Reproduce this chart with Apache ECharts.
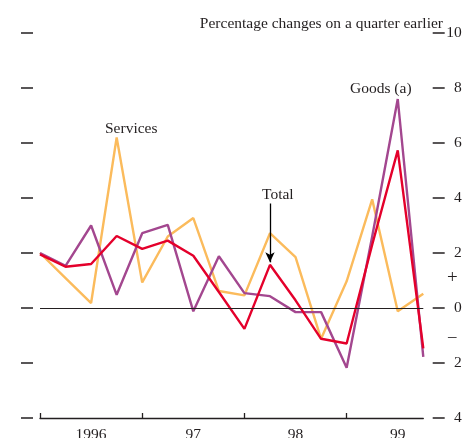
<!DOCTYPE html>
<html>
<head>
<meta charset="utf-8">
<script src="https://cdn.jsdelivr.net/npm/echarts@6/dist/echarts.min.js"></script>
<style>
  html, body { margin: 0; padding: 0; background: #fff; }
  #chart { width: 464px; height: 438px; }
</style>
</head>
<body>
<div id="chart"></div>
<script>
"use strict";

// quarters 1996 Q1 .. 1999 Q4
var quarters = ['96Q1', '96Q2', '96Q3', '96Q4', '97Q1', '97Q2', '97Q3', '97Q4',
                '98Q1', '98Q2', '98Q3', '98Q4', '99Q1', '99Q2', '99Q3', '99Q4'];
var yearLabels = ['1996', '97', '98', '99'];

var totalData    = [1.95, 1.5, 1.6, 2.62, 2.15, 2.45, 1.9, 0.58, -0.76, 1.57, 0.28, -1.12, -1.29, 2.3, 5.73, -1.47];
var goodsData    = [2.0, 1.53, 3.0, 0.48, 2.72, 3.02, -0.12, 1.88, 0.54, 0.43, -0.15, -0.15, -2.17, 2.6, 7.6, -1.78];
var servicesData = [2.0, 1.09, 0.18, 6.2, 0.93, 2.6, 3.27, 0.62, 0.46, 2.72, 1.85, -1.12, 0.97, 3.95, -0.12, 0.52];

var yTicks = { min: -4, max: 10, interval: 2 };

var FONT = 'Liberation Serif';
var INK = '#231f20';

var dom = document.getElementById('chart');
var myChart = echarts.init(dom);

var option = {
    animation: false,
    textStyle: { fontFamily: FONT, color: INK },
    grid: { left: 40, right: 40.7, top: 33, bottom: 20, outerBoundsMode: 'none', containLabel: false },
    xAxis: {
        type: 'category',
        data: quarters,
        boundaryGap: false,
        axisLine: { onZero: false, lineStyle: { color: INK, width: 1.3 } },
        axisTick: {
            inside: true,
            length: 5,
            interval: function (i) { return i % 4 === 0; },
            lineStyle: { color: INK, width: 1.3 }
        },
        axisLabel: {
            interval: function (i) { return i % 4 === 2; },
            formatter: function (v, i) { return yearLabels[Math.floor(i / 4)]; },
            margin: 9,
            fontFamily: FONT,
            fontSize: 15.5,
            color: INK
        },
        splitLine: { show: false }
    },
    yAxis: [
        {
            type: 'value',
            position: 'right',
            offset: 9.4,
            min: yTicks.min, max: yTicks.max, interval: yTicks.interval,
            axisLine: { show: false },
            axisTick: { show: true, length: 12, lineStyle: { color: INK, width: 1.5 } },
            axisLabel: {
                align: 'right',
                margin: 29,
                fontFamily: FONT,
                fontSize: 15.5,
                color: INK,
                formatter: function (v) { return String(Math.abs(v)); }
            },
            splitLine: { show: false }
        },
        {
            type: 'value',
            position: 'left',
            offset: 7,
            min: yTicks.min, max: yTicks.max, interval: yTicks.interval,
            axisLine: { show: false },
            axisTick: { show: true, length: 12, lineStyle: { color: INK, width: 1.5 } },
            axisLabel: { show: false },
            splitLine: { show: false }
        }
    ],
    series: [
        {
            name: 'Services',
            type: 'line',
            data: servicesData,
            symbol: 'none',
            lineStyle: { color: '#fbbb5c', width: 2.4 },
            markLine: {
                silent: true,
                symbol: 'none',
                label: { show: false },
                lineStyle: { color: INK, width: 1.2, type: 'solid' },
                data: [{ yAxis: 0 }]
            }
        },
        {
            name: 'Goods (a)',
            type: 'line',
            data: goodsData,
            symbol: 'none',
            lineStyle: { color: '#a3478f', width: 2.4 }
        },
        {
            name: 'Total',
            type: 'line',
            data: totalData,
            symbol: 'none',
            lineStyle: { color: '#e4002b', width: 2.4 },
            markLine: {
                silent: true,
                label: { show: false },
                symbolSize: [7, 10],
                lineStyle: { color: '#000', width: 1.3, type: 'solid' },
                data: [[
                    { coord: [9, 3.8], symbol: 'none' },
                    { coord: [9, 1.66], symbol: 'arrow' }
                ]]
            }
        }
    ],
    graphic: [
        { type: 'text', right: 21, top: 16, style: { text: 'Percentage changes on a quarter earlier', font: '15.5px "Liberation Serif"', fill: INK } },
        { type: 'text', left: 350, top: 81, style: { text: 'Goods (a)', font: '15.5px "Liberation Serif"', fill: INK } },
        { type: 'text', left: 105, top: 121, style: { text: 'Services', font: '15.5px "Liberation Serif"', fill: INK } },
        { type: 'text', left: 262, top: 187, style: { text: 'Total', font: '15.5px "Liberation Serif"', fill: INK } },
        { type: 'text', left: 447, top: 269, style: { text: '+', font: '19px "Liberation Serif"', fill: INK } },
        { type: 'text', left: 448, top: 328, style: { text: '\u2013', font: '17px "Liberation Serif"', fill: INK } }
    ]
};

if (option && typeof option === "object") {
    myChart.setOption(option, true);
}
</script>
</body>
</html>
